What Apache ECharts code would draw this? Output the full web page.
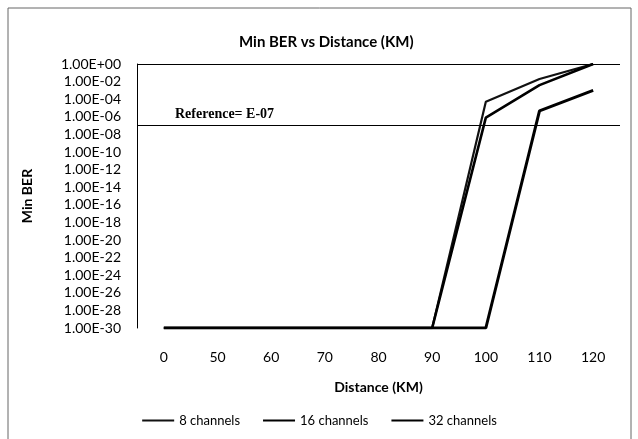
<!DOCTYPE html>
<html>
<head>
<meta charset="utf-8">
<script src="https://cdn.jsdelivr.net/npm/echarts@6/dist/echarts.min.js"></script>
<style>
  html, body { margin: 0; padding: 0; background: #fff; }
  #chart { width: 638px; height: 439px; }
</style>
</head>
<body>
<div id="chart"></div>
<script>
// distance in km (category axis, as in the original sheet)
var distances = ['0', '50', '60', '70', '80', '90', '100', '110', '120'];

// min BER per distance
var ber8 = [1e-30, 1e-30, 1e-30, 1e-30, 1e-30, 1e-30, 5e-5, 2e-2, 1];
var ber16 = [1e-30, 1e-30, 1e-30, 1e-30, 1e-30, 1e-30, 8e-7, 4e-3, 1];
var ber32 = [1e-30, 1e-30, 1e-30, 1e-30, 1e-30, 1e-30, 1e-30, 4.6e-6, 1e-3];

var refBer = 1e-7;
var berMin = 1e-30;
var berMax = 1;

// echarts' log axis rounds 1e-30 away, so plot the decade exponent on a value axis
function toExp(v) { return Math.log10(v); }

function fmtExp(e) {
    e = Math.round(e);
    var sign = e < 0 ? '-' : '+';
    var a = Math.abs(e);
    return '1.00E' + sign + (a < 10 ? '0' + a : a);
}

var font = 'Lato, "Open Sans", sans-serif';

var option = {
    backgroundColor: '#fff',
    animation: false,
    title: {
        text: 'Min BER vs Distance (KM)',
        left: 234,
        top: 30,
        textStyle: { fontFamily: font, fontSize: 15, fontWeight: 'bold', color: '#000' }
    },
    grid: { left: 137, right: 18, top: 64, bottom: 111 },
    legend: {
        left: 'center',
        top: 409,
        itemWidth: 32,
        itemHeight: 10,
        itemGap: 22,
        itemStyle: { opacity: 0 },
        textStyle: { fontFamily: font, fontSize: 13, color: '#000' },
        data: ['8 channels', '16 channels', '32 channels']
    },
    xAxis: {
        type: 'category',
        data: distances,
        boundaryGap: true,
        name: 'Distance (KM)',
        nameLocation: 'middle',
        nameGap: 52,
        nameTextStyle: { fontFamily: font, fontSize: 14, fontWeight: 'bold', color: '#000' },
        axisLine: { show: false },
        axisTick: { show: false },
        axisLabel: { fontFamily: font, fontSize: 14, color: '#000', margin: 22 }
    },
    yAxis: {
        type: 'value',
        min: toExp(berMin),
        max: toExp(berMax),
        interval: 2,
        name: 'Min BER',
        nameLocation: 'middle',
        nameGap: 103,
        nameTextStyle: { fontFamily: font, fontSize: 14, fontWeight: 'bold', color: '#000' },
        axisLine: { show: true, lineStyle: { color: '#000', width: 1 } },
        axisTick: { show: false },
        splitLine: { show: false },
        axisLabel: {
            fontFamily: font, fontSize: 14, color: '#000', margin: 16,
            formatter: function (v) { return fmtExp(v); }
        }
    },
    series: [
        {
            name: '8 channels',
            type: 'line',
            data: ber8.map(toExp),
            symbol: 'none',
            lineStyle: { color: '#111', width: 2.2 },
            itemStyle: { color: '#111' },
            markLine: {
                silent: true,
                symbol: 'none',
                label: { show: false },
                lineStyle: { color: '#000', width: 1, type: 'solid' },
                data: [{ yAxis: toExp(refBer) }, { yAxis: toExp(berMax) }]
            }
        },
        {
            name: '16 channels',
            type: 'line',
            data: ber16.map(toExp),
            symbol: 'none',
            lineStyle: { color: '#000', width: 2.6 },
            itemStyle: { color: '#000' }
        },
        {
            name: '32 channels',
            type: 'line',
            data: ber32.map(toExp),
            symbol: 'none',
            lineStyle: { color: '#000', width: 3 },
            itemStyle: { color: '#000' }
        }
    ],
    graphic: [
        {
            type: 'rect',
            shape: { x: 8, y: 8, width: 623, height: 440 },
            style: { fill: null, stroke: '#666', lineWidth: 1 },
            silent: true
        },
        {
            type: 'text',
            left: 175,
            top: 107,
            style: {
                text: 'Reference= E-07',
                font: 'bold 14px "Liberation Serif", "Times New Roman", serif',
                fill: '#000'
            }
        }
    ]
};

var chartDom = document.getElementById('chart');
var chart = echarts.init(chartDom);
chart.setOption(option, true);
</script>
</body>
</html>
